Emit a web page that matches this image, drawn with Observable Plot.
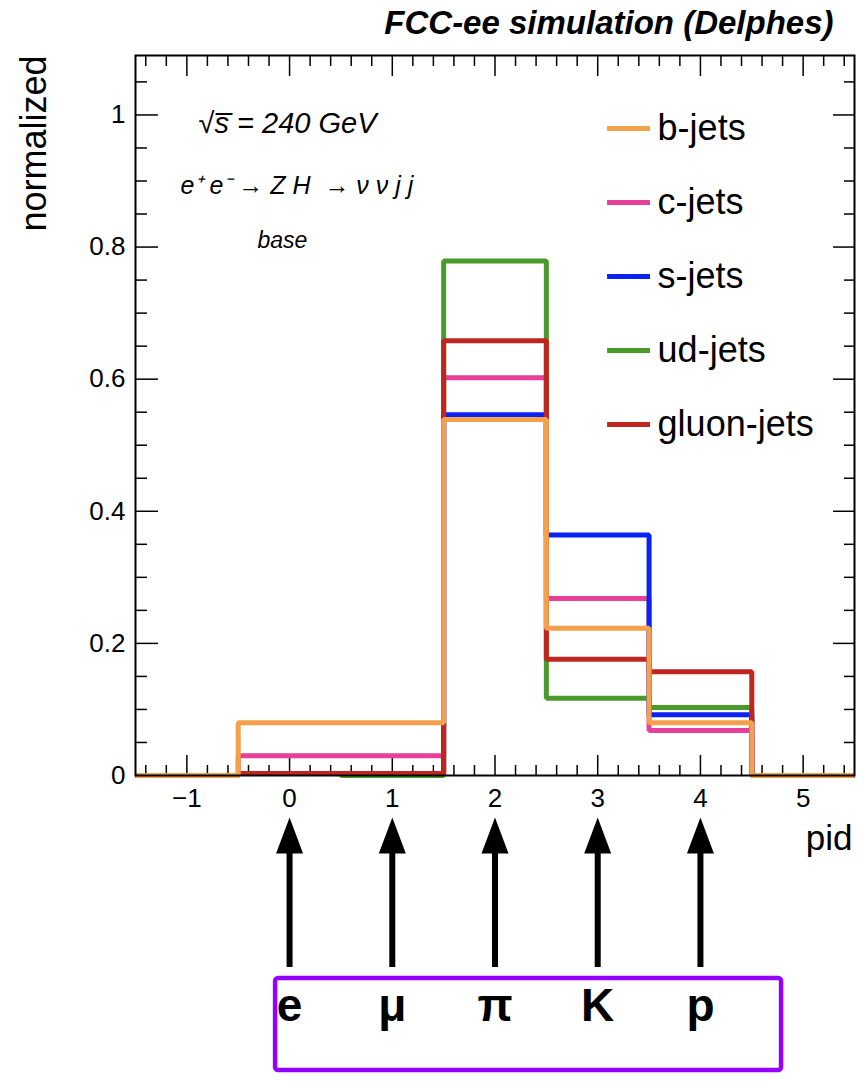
<!DOCTYPE html>
<html><head><meta charset="utf-8">
<script src="https://cdn.jsdelivr.net/npm/d3@7"></script>
<script src="https://cdn.jsdelivr.net/npm/@observablehq/plot@0.6"></script>
<style>html,body{margin:0;padding:0;background:#fff}#chart svg{display:block}</style>
</head><body><div id="chart"></div>
<script>
// ---- data ----
const pidBins   = [-1, 0, 1, 2, 3, 4, 5];
const bJets     = [0, 0.080, 0.080, 0.539, 0.223, 0.080, 0];
const cJets     = [0, 0.030, 0.030, 0.602, 0.268, 0.068, 0];
const sJets     = [0, 0.003, 0.003, 0.546, 0.364, 0.092, 0];
const udJets    = [0, 0.003, 0.000, 0.779, 0.117, 0.103, 0];
const gluonJets = [0, 0.003, 0.003, 0.658, 0.176, 0.157, 0];
const seriesNames  = ["b-jets", "c-jets", "s-jets", "ud-jets", "gluon-jets"];
const seriesColors = ["#f5a04d", "#e8409a", "#0a22f2", "#4b9a2c", "#c0261f"];
const drawOrder    = ["c-jets", "ud-jets", "s-jets", "gluon-jets", "b-jets"];
const xTicks = [-1, 0, 1, 2, 3, 4, 5];
const yTicks = [0, 0.2, 0.4, 0.6, 0.8, 1];
const particles   = ["e", "μ", "π", "K", "p"];
const particlePid = [0, 1, 2, 3, 4];

// ---- derived ----
const seriesValues = [bJets, cJets, sJets, udJets, gluonJets];
const series = seriesNames.map((name, i) => ({name, color: seriesColors[i], values: seriesValues[i]}));
function stepPoints(s) {
  const pts = pidBins.map((p, j) => ({x: p - 0.5, y: s.values[j]}));
  pts.push({x: pidBins[pidBins.length - 1] + 0.5, y: s.values[s.values.length - 1]});
  return pts;
}
const xMinor = d3.range(-14, 56, 2).map(d => d / 10).filter(d => !Number.isInteger(d));
const yMinor = d3.range(1, 22).map(d => +(d * 0.05).toFixed(2)).filter(d => Math.abs(d * 5 - Math.round(d * 5)) > 1e-9);
const particleData = particles.map((name, i) => ({name, pid: particlePid[i]}));

const arrowHead = {draw(ctx) { ctx.moveTo(0, 0); ctx.lineTo(13.5, 36); ctx.lineTo(-13.5, 36); ctx.closePath(); }};

const LEG_Y0 = 0.9795, LEG_STEP = 0.112;
const tickStroke = {stroke: "black", strokeWidth: 1.5, fill: "none", label: null};

const histMarks = drawOrder.map(name => {
  const s = series.find(d => d.name === name);
  return Plot.line(stepPoints(s), {x: "x", y: "y", curve: "step-after", stroke: s.color, strokeWidth: 5, strokeLinejoin: "miter", strokeLinecap: "butt"});
});

const legendMarks = series.map((s, i) =>
  Plot.ruleY([LEG_Y0 - i * LEG_STEP], {x1: 3.096, x2: 3.514, stroke: s.color, strokeWidth: 5})
);

const chart = Plot.plot({
  width: 864, height: 1081,
  marginLeft: 135, marginRight: 10, marginTop: 55, marginBottom: 306,
  style: {fontFamily: "'Liberation Sans', Arial, Helvetica, sans-serif", fontSize: "26px", background: "white", color: "black"},
  x: {domain: [-1.5, 5.5]},
  y: {domain: [0, 1.09]},
  marks: [
    // axes tick labels
    Plot.axisX(xTicks, {anchor: "bottom", tickSize: 0, tickPadding: 13, fontSize: 26, label: null,
      tickFormat: d => d < 0 ? "\u2212" + (-d) : String(d)}),
    Plot.axisY(yTicks, {anchor: "left", tickSize: 0, tickPadding: 10, fontSize: 26, label: null,
      tickFormat: d => String(d)}),
    // inward ticks
    Plot.axisX(xTicks, {anchor: "bottom", tickSize: -20, ...tickStroke}),
    Plot.axisX(xMinor, {anchor: "bottom", tickSize: -10, ...tickStroke}),
    Plot.axisX(xTicks, {anchor: "top", tickSize: -20, ...tickStroke}),
    Plot.axisX(xMinor, {anchor: "top", tickSize: -10, ...tickStroke}),
    Plot.axisY(yTicks, {anchor: "left", tickSize: -23, ...tickStroke}),
    Plot.axisY(yMinor, {anchor: "left", tickSize: -12, ...tickStroke}),
    Plot.axisY(yTicks, {anchor: "right", tickSize: -22, ...tickStroke}),
    Plot.axisY(yMinor, {anchor: "right", tickSize: -11, ...tickStroke}),
    // histograms
    ...histMarks,
    Plot.frame({stroke: "black", strokeWidth: 2}),
    // legend
    ...legendMarks,
    Plot.text(series, {x: 3.583, y: (d, i) => LEG_Y0 - i * LEG_STEP, text: "name", textAnchor: "start", lineAnchor: "middle", fontSize: 36}),
    // annotations
    Plot.text(["FCC-ee simulation (Delphes)"], {x: 5.296, y: 1.123, textAnchor: "end", lineAnchor: "bottom", fontSize: 33, fontWeight: "bold", fontStyle: "italic"}),
    Plot.text(["\u221As\u0305 = 240 GeV"], {x: -0.886, y: 0.9734, textAnchor: "start", lineAnchor: "bottom", fontSize: 29, fontStyle: "italic"}),
    Plot.text(["e\u207A e\u207B \u2192 Z H  \u2192 \u03BD \u03BD j j"], {x: -1.061, y: 0.881, textAnchor: "start", lineAnchor: "bottom", fontSize: 25, fontStyle: "italic"}),
    Plot.text(["base"], {x: -0.312, y: 0.798, textAnchor: "start", lineAnchor: "bottom", fontSize: 23, fontStyle: "italic"}),
    Plot.text(["normalized"], {frameAnchor: "top-left", dx: -90, rotate: -90, textAnchor: "end", lineAnchor: "bottom", fontSize: 36}),
    Plot.text(["pid"], {x: 5.48, y: -0.1135, textAnchor: "end", lineAnchor: "bottom", fontSize: 35}),
    // particle arrows
    Plot.ruleX(particleData, {x: "pid", y1: () => -0.118, y2: () => -0.2907, stroke: "black", strokeWidth: 6}),
    Plot.dot(particleData, {x: "pid", y: () => -0.0636, symbol: arrowHead, fill: "black", stroke: "none", r: 10}),
    Plot.rect([0], {x1: () => -0.136, x2: () => 4.79, y1: () => -0.3073, y2: () => -0.4466, stroke: "#9400ff", strokeWidth: 4.5, fill: "none", rx: 3}),
    Plot.text(particleData, {x: "pid", y: () => -0.3724, text: "name", textAnchor: "middle", lineAnchor: "bottom", fontSize: 46, fontWeight: "bold"})
  ]
});
document.getElementById("chart").appendChild(chart);
</script>
</body></html>
